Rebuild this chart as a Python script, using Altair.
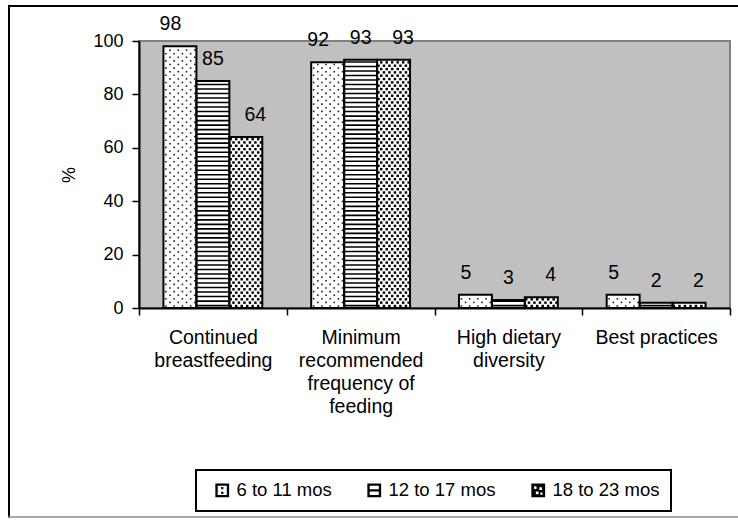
import altair as alt
import pandas as pd

# Feeding indicators by age group (percent of children)
categories = [
    "Continued breastfeeding",
    "Minimum recommended frequency of feeding",
    "High dietary diversity",
    "Best practices",
]
category_lines = [
    ["Continued", "breastfeeding"],
    ["Minimum", "recommended", "frequency of", "feeding"],
    ["High dietary", "diversity"],
    ["Best practices"],
]
series = ["6 to 11 mos", "12 to 17 mos", "18 to 23 mos"]
pct_6_11 = [98, 92, 5, 5]
pct_12_17 = [85, 93, 3, 2]
pct_18_23 = [64, 93, 4, 2]

records = []
for s_idx, (name, vals) in enumerate(zip(series, [pct_6_11, pct_12_17, pct_18_23])):
    for cat, v in zip(categories, vals):
        records.append({"category": cat, "series": name, "s": s_idx, "value": v})
df = pd.DataFrame(records)

FONT = "Liberation Sans, Arial, sans-serif"

# band layout inside each category: outer padding in units of one bar width
OUTER = 0.742
SLOTS = 3 + 2 * OUTER

# multi-line category labels
label_expr = "datum.label"
for cat, lines in reversed(list(zip(categories, category_lines))):
    arr = "[" + ",".join("'" + ln + "'" for ln in lines) + "]"
    label_expr = f"datum.label == '{cat}' ? {arr} : ({label_expr})"

x_axis = alt.Axis(
    title=None, labelExpr=label_expr, labelAngle=0, labelFontSize=19.5,
    labelLineHeight=23, labelPadding=13, tickBand="extent", tickSize=7,
    tickWidth=1.5, domainWidth=2, domainColor="black", tickColor="black",
    labelColor="black", labelFont=FONT, labelBaseline="top", labelLimit=300,
    labelOverlap=False, grid=False, zindex=1,
)
y_axis = alt.Axis(
    title="%", values=[0, 20, 40, 60, 80, 100], grid=False, labelFontSize=18,
    labelFont=FONT, labelColor="black", labelPadding=9, tickSize=7, tickWidth=1.5,
    domainWidth=2, domainColor="black", tickColor="black", titleFont=FONT,
    titleFontSize=18, titleFontWeight="normal", titleColor="black", titlePadding=14,
    zindex=1,
)

x_scale = alt.Scale(domain=categories, paddingInner=0, paddingOuter=0)
y_scale = alt.Scale(domain=[0, 100], nice=False)
xoff_band = alt.XOffset("series:N", sort=series,
                        scale=alt.Scale(domain=series, paddingInner=0, paddingOuter=OUTER))
xoff_frac = alt.XOffset("xf:Q", scale=alt.Scale(domain=[0, 1], nice=False, zero=False))


def x_enc():
    return alt.X("category:N", sort=categories, scale=x_scale, axis=x_axis)


def y_enc(field):
    return alt.Y(field, scale=y_scale, axis=y_axis)


base = alt.Chart(df)
one_row = alt.Data(values=[{"k": 0}])

# grey plotting area with its darker border
plot_bg = alt.Chart(one_row).mark_rect(
    fill="#C0C0C0", stroke="#808080", strokeWidth=2
).encode(x=alt.value(0), x2=alt.value("width"), y=alt.value(0), y2=alt.value("height"))

# white bar bodies
bodies = base.mark_bar(fill="white", strokeWidth=0).encode(
    x=x_enc(), xOffset=xoff_band, y=y_enc("value:Q"),
)

# sparse dot texture for the youngest group
DOT_COLS, DOT_DY, DOT_Y0 = 4, 1.35, 0.75
dots = (
    base.transform_filter(alt.datum.s == 0)
    .transform_calculate(row=f"sequence(0, ceil(datum.value / {DOT_DY}) + 1)")
    .transform_flatten(["row"])
    .transform_calculate(col=f"sequence(0, {DOT_COLS})")
    .transform_flatten(["col"])
    .transform_calculate(
        yv=f"{DOT_Y0} + datum.row * {DOT_DY}",
        xf=f"({OUTER} + datum.s + (datum.col + 0.3 + 0.5 * (datum.row % 2)) / {DOT_COLS}) / {SLOTS}",
    )
    .transform_filter(f"datum.yv <= datum.value - {DOT_Y0}")
    .mark_square(size=2.6, color="black", opacity=0.85)
    .encode(x=x_enc(), xOffset=xoff_frac, y=y_enc("yv:Q"))
)

# horizontal stripes for the middle group
ST_DY, ST_H, ST_Y0 = 1.69, 0.6, 0.6
stripes = (
    base.transform_filter(alt.datum.s == 1)
    .transform_calculate(row=f"sequence({ST_Y0}, datum.value - {ST_H}, {ST_DY})")
    .transform_flatten(["row"])
    .transform_calculate(top=f"datum.row + {ST_H}")
    .mark_bar(color="black", strokeWidth=0)
    .encode(x=x_enc(), xOffset=xoff_band, y=y_enc("row:Q"), y2="top:Q")
)

# dense checker texture for the oldest group
CH_COLS, CH_DY, CH_Y0 = 6, 1.25, 0.75
checks = (
    base.transform_filter(alt.datum.s == 2)
    .transform_calculate(row=f"sequence(0, ceil(datum.value / {CH_DY}) + 1)")
    .transform_flatten(["row"])
    .transform_calculate(col=f"sequence(0, {CH_COLS})")
    .transform_flatten(["col"])
    .transform_calculate(
        yv=f"{CH_Y0} + datum.row * {CH_DY}",
        xf=f"({OUTER} + datum.s + (datum.col + 0.25 + 0.5 * (datum.row % 2)) / {CH_COLS}) / {SLOTS}",
    )
    .transform_filter(f"datum.yv <= datum.value - {CH_Y0}")
    .mark_square(size=6, color="black", opacity=1)
    .encode(x=x_enc(), xOffset=xoff_frac, y=y_enc("yv:Q"))
)

# bar outlines on top of the textures
outlines = base.mark_bar(fillOpacity=0, stroke="black", strokeWidth=2).encode(
    x=x_enc(), xOffset=xoff_band, y=y_enc("value:Q")
)

# value labels above each bar
labels = base.mark_text(baseline="alphabetic", dy=-16, fontSize=19.5, font=FONT,
                        color="black").encode(
    x=x_enc(), xOffset=xoff_band, y=y_enc("value:Q"),
    text=alt.Text("value:Q"),
)

# legend symbols: outlined / striped / checkered squares
sym_dots = ("M-1,-1H1V1H-1Z M-0.66,-0.66V0.66H0.66V-0.66Z "
            "M-0.16,-0.5H0.16V-0.18H-0.16Z M-0.16,0.2H0.16V0.52H-0.16Z")
sym_stripe = ("M-1,-1H1V1H-1Z M-0.66,-0.66V-0.16H0.66V-0.66Z "
              "M-0.66,0.16V0.66H0.66V0.16Z")
sym_checks = ("M-1,-1H1V1H-1Z M-0.6,-0.6V-0.2H-0.25V-0.6Z M0.15,-0.45V-0.05H0.55V-0.45Z "
              "M-0.35,0.15V0.55H0.05V0.15Z M0.3,0.3V0.62H0.62V0.3Z")

legend_layer = (
    alt.Chart(df).transform_filter("false")
    .mark_point(filled=True, color="black", opacity=1)
    .encode(
        shape=alt.Shape(
            "series:N", sort=series,
            scale=alt.Scale(domain=series, range=[sym_dots, sym_stripe, sym_checks]),
            legend=alt.Legend(
                title=None, orient="none", legendX=57, legendY=429,
                direction="horizontal", columns=3, columnPadding=27,
                symbolSize=190, symbolFillColor="black", symbolStrokeWidth=0,
                symbolOpacity=1, symbolOffset=6, labelOffset=5,
                labelFont=FONT, labelFontSize=18.5, labelColor="black",
                strokeColor="black", padding=11, fillColor="white",
            ),
        )
    )
)

# outer chart frame (left, top and bottom edges)
frame_left = alt.Chart(one_row).mark_rule(color="black", strokeWidth=2).encode(
    x=alt.value(-130), y=alt.value(-36), y2=alt.value(477))
frame_top = alt.Chart(one_row).mark_rule(color="black", strokeWidth=2).encode(
    x=alt.value(-131), x2=alt.value(599), y=alt.value(-35))
frame_bottom = alt.Chart(one_row).mark_rule(color="#8c8c8c", strokeWidth=1.5).encode(
    x=alt.value(-131), x2=alt.value(599), y=alt.value(476))

chart = (
    alt.layer(plot_bg, bodies, dots, stripes, checks, outlines, labels, legend_layer,
              frame_left, frame_top, frame_bottom)
    .resolve_scale(xOffset="independent")
    .properties(
        width=591, height=267,
        autosize=alt.AutoSizeParams(type="none"),
        padding={"left": 139, "top": 41, "right": 8, "bottom": 210},
        background="white",
    )
    .configure(font=FONT)
    .configure_view(stroke=None)
    .configure_legend(strokeWidth=2)
)

chart.save("out.html", embed_options={"renderer": "svg", "actions": False})
